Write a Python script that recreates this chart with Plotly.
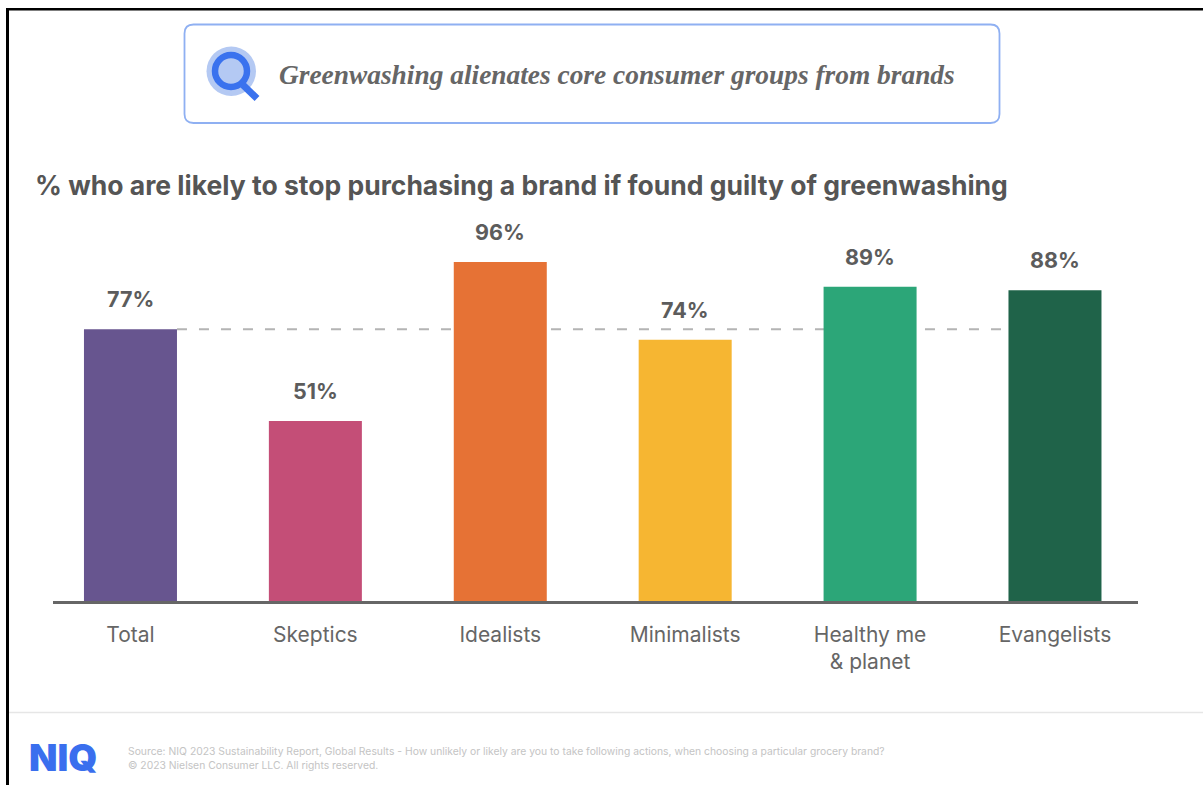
import plotly.graph_objects as go

W, H = 1203, 785

categories = ["Total", "Skeptics", "Idealists", "Minimalists", "Healthy me<br>& planet", "Evangelists"]
values = [77, 51, 96, 74, 89, 88]
bar_colors = ["#67558f", "#c44e77", "#e67235", "#f6b632", "#2ca678", "#1f6349"]
total_value = values[0]
bar_width = 0.503

headline = "Greenwashing alienates core consumer groups from brands"
subtitle = "% who are likely to stop purchasing a brand if found guilty of greenwashing"
source_lines = [
    "Source: NIQ 2023 Sustainability Report, Global Results - How unlikely or likely are you to take following actions, when choosing a particular grocery brand?",
    "© 2023 Nielsen Consumer LLC. All rights reserved.",
]


def fx(px):
    return px / W


def fy(px):
    return 1 - px / H


def rounded_box(x0, y0, x1, y1, r):
    rx, ry = r / W, r / H
    a, b, c, d = fx(x0), fy(y0), fx(x1), fy(y1)
    return (
        f"M{a + rx},{b} L{c - rx},{b} Q{c},{b} {c},{b - ry} "
        f"L{c},{d + ry} Q{c},{d} {c - rx},{d} L{a + rx},{d} "
        f"Q{a},{d} {a},{d + ry} L{a},{b - ry} Q{a},{b} {a + rx},{b} Z"
    )


def paper_shape(kind, x0, y0, x1, y1, **kw):
    return dict(type=kind, xref="paper", yref="paper", x0=fx(x0), x1=fx(x1), y0=fy(y0), y1=fy(y1), **kw)


fig = go.Figure(
    go.Bar(
        x=list(range(len(values))),
        y=values,
        width=bar_width,
        marker=dict(color=bar_colors, line_width=0),
        hoverinfo="x+y",
    )
)

shapes = [
    # reference line at the Total level, from the first bar's edge to the last bar's edge
    dict(type="line", xref="x", yref="y", x0=bar_width / 2, x1=5 - bar_width / 2,
         y0=total_value, y1=total_value, layer="below",
         line=dict(color="#b4b4b4", width=2, dash="10px,12px")),
    # frame
    paper_shape("rect", 6, 8, 9, 785, fillcolor="#000", line_width=0),
    paper_shape("rect", 6, 8, 1203, 10.5, fillcolor="#000", line_width=0),
    # footer rule
    paper_shape("line", 9, 712.5, 1203, 712.5, line=dict(color="#e6e6e6", width=1.5)),
    # headline box
    dict(type="path", xref="paper", yref="paper", path=rounded_box(184.5, 24.5, 999.5, 123, 9),
         line=dict(color="#8fb0f2", width=1.8)),
    # magnifier icon
    paper_shape("circle", 206.5, 46.5, 256, 96, fillcolor="#b4c9f3", line_width=0),
    paper_shape("circle", 215, 55, 247, 87, fillcolor="#b4c9f3", line=dict(color="#3a72ee", width=6.5)),
    paper_shape("line", 243, 85, 257, 98.5, line=dict(color="#3a72ee", width=7)),
]

annotations = [
    dict(x=i, y=v, xref="x", yref="y", text=f"<b>{v}%</b>", showarrow=False, yanchor="bottom",
         yshift=15, font=dict(family="Inter", size=21.5, color="#5c5c5c"))
    for i, v in enumerate(values)
]


def page_text(x, y, text, size, color, family, anchor="left", **font_kw):
    return dict(x=fx(x), y=fy(y), xref="paper", yref="paper", text=text, showarrow=False,
                xanchor=anchor, yanchor="middle", align="left",
                font=dict(family=family, size=size, color=color, **font_kw))


annotations += [
    page_text(277, 75, f"<b><i>{headline}</i></b>", 27.4, "#666666", "Liberation Serif"),
    page_text(33, 185, f"<b>{subtitle}</b>", 26.5, "#555555", "Inter"),
    page_text(27, 757, "NIQ", 37, "#3a6fee", "Inter", weight=900),
    page_text(126, 751, source_lines[0], 10.35, "#c4c4c4", "Inter"),
    page_text(126, 765, source_lines[1], 10.35, "#c4c4c4", "Inter"),
]

fig.update_layout(
    width=W,
    height=H,
    autosize=False,
    margin=dict(l=0, r=0, t=0, b=0),
    paper_bgcolor="#ffffff",
    plot_bgcolor="#ffffff",
    showlegend=False,
    shapes=shapes,
    annotations=annotations,
    xaxis=dict(
        domain=[fx(53), fx(1138)],
        range=[-0.419, 5.449],
        tickmode="array",
        tickvals=list(range(len(categories))),
        ticktext=categories,
        ticks="outside",
        ticklen=13,
        tickcolor="rgba(0,0,0,0)",
        tickfont=dict(family="Inter", size=21, color="#666666"),
        showgrid=False,
        zeroline=False,
        showline=True,
        linecolor="#666666",
        linewidth=2.5,
    ),
    yaxis=dict(
        domain=[fy(601), fy(200)],
        range=[0, 401 / 3.53],
        visible=False,
        showgrid=False,
        zeroline=False,
    ),
)

fig.write_html("out.html")
